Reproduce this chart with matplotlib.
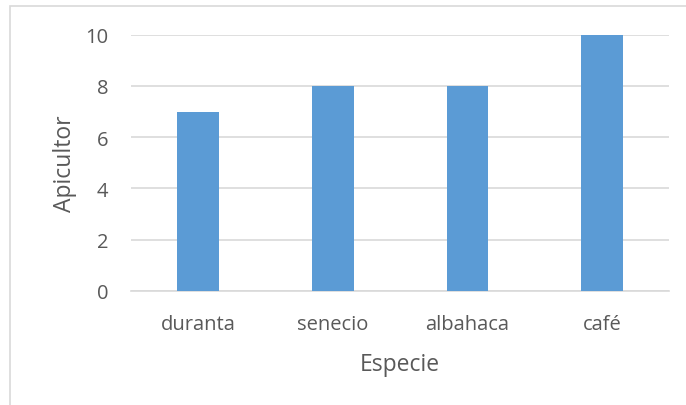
import matplotlib.pyplot as plt
from matplotlib.patches import Rectangle

especies = ["duranta", "senecio", "albahaca", "café"]
apicultores = [7, 8, 8, 10]
y_ticks = [0, 2, 4, 6, 8, 10]

plt.rcParams["font.family"] = ["Open Sans", "DejaVu Sans"]

W, H = 686, 406
fig = plt.figure(figsize=(W / 100, H / 100), dpi=100)
ax = fig.add_axes([131 / W, 1 - 291.7 / H, 538.3 / W, 256 / H])

x = range(len(especies))
ax.bar(x, apicultores, width=0.31, color="#5B9BD5", zorder=3)

ax.set_xlim(-0.5, len(especies) - 0.5)
ax.set_ylim(0, 10)
ax.set_yticks(y_ticks)
ax.set_xticks(list(x))
ax.set_xticklabels(especies)
ax.yaxis.grid(True, color="#D9D9D9", linewidth=1.2, zorder=0)
ax.tick_params(length=0, labelsize=14.5, labelcolor="#595959")
ax.tick_params(axis="x", pad=17)
ax.tick_params(axis="y", pad=16.5)
for side in ["top", "right", "left"]:
    ax.spines[side].set_visible(False)
ax.spines["bottom"].set_color("#D9D9D9")
ax.spines["bottom"].set_linewidth(1.2)

ax.set_xlabel("Especie", fontsize=16.5, color="#595959", labelpad=13)
ax.set_ylabel("Apicultor", fontsize=16.5, color="#595959", labelpad=6)

# chart-area frame
fig.add_artist(Rectangle((10 / W, -0.1), 1.2, 1.1 - 7 / H, transform=fig.transFigure,
                         fill=False, edgecolor="#D9D9D9", linewidth=1.2))

fig.savefig("out.png", dpi=100)
